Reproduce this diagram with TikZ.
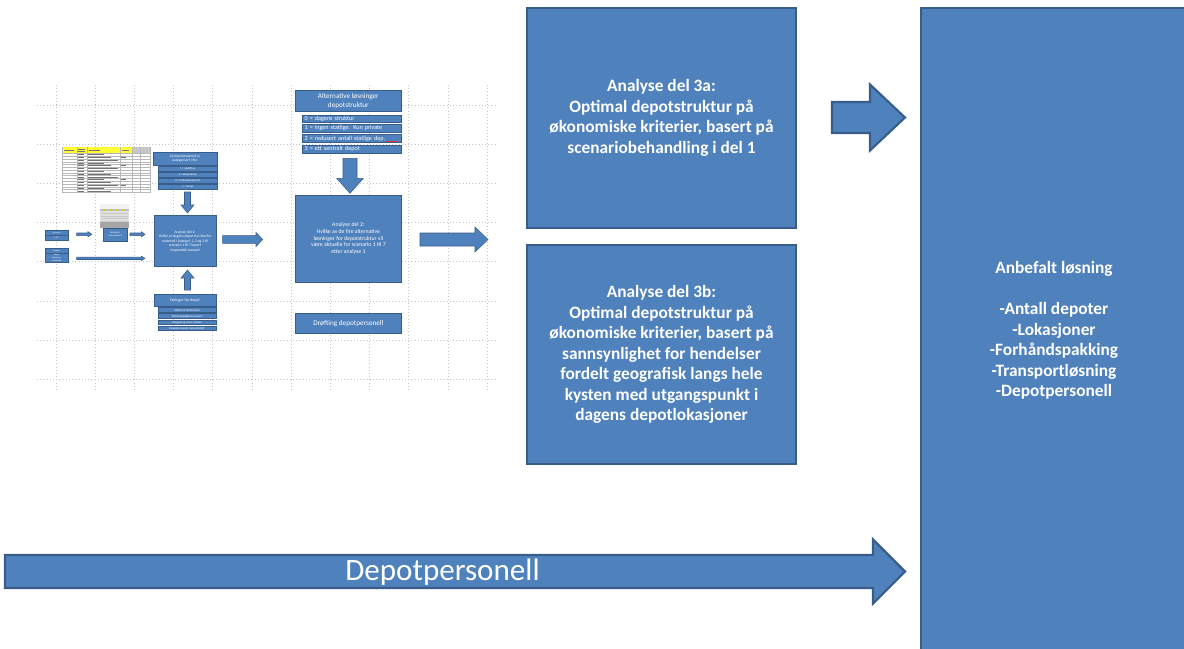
\documentclass[tikz,border=0pt]{standalone}
\usepackage{fontspec}
\setmainfont{Carlito}
\definecolor{boxfill}{HTML}{4F81BD}
\definecolor{boxedge}{HTML}{385D8A}
\definecolor{gridcol}{HTML}{C4C4C4}
\definecolor{sheetyellow}{HTML}{FFFF33}
\definecolor{spellred}{HTML}{E03030}

% box placed by its corner coordinates (units of 0.75pt, y pointing down)
\newcommand\cornerbox[7]{%
  \node[#6, minimum width={(#4-#2)*0.75pt}, minimum height={(#5-#3)*0.75pt}]
    (#1) at ({(#2+#4)/2},{(#3+#5)/2}) {#7};}
% right-pointing block arrow: tail x, head-base x, tip x, centre y, shaft half, head half, style
\newcommand\blockright[7]{%
  \path[#7] (#1,{#4-#5}) -- (#2,{#4-#5}) -- (#2,{#4-#6}) -- (#3,#4)
    -- (#2,{#4+#6}) -- (#2,{#4+#5}) -- (#1,{#4+#5}) -- cycle;}
% vertical block arrow: centre x, tail y, head-base y, tip y, shaft half, head half, style
\newcommand\blockvert[7]{%
  \path[#7] ({#1-#5},#2) -- ({#1-#5},#3) -- ({#1-#6},#3) -- (#1,#4)
    -- ({#1+#6},#3) -- ({#1+#5},#3) -- ({#1+#5},#2) -- cycle;}

\tikzset{
  bigbox/.style={draw=boxedge, fill=boxfill, line width=1.6pt, text=white,
    font=\bfseries\fontsize{13}{15.4}\selectfont, align=center, inner sep=0pt},
  minibox/.style={draw=boxedge, fill=boxfill, line width=0.4pt, text=white,
    align=center, inner sep=0pt},
  bigarrow/.style={draw=boxedge, fill=boxfill, line width=1.6pt, line join=miter},
  miniarrow/.style={draw=boxedge, fill=boxfill, line width=0.4pt},
  gridline/.style={draw=gridcol, line width=0.6pt, dash pattern=on 0.8pt off 1.6pt},
  cellline/.style={draw=black!28, line width=0.2pt},
  celltext/.style={draw=black!55, line width=0.5pt},
}

\begin{document}
\begin{tikzpicture}[x=0.75pt, y=-0.75pt]
\clip (0,0) rectangle (1184,649);
\fill[white] (0,0) rectangle (1184,649);

% ---------- small overview sketch on a grid ----------
\foreach \k in {0,...,11} \draw[gridline] ({56+39.2*\k},85) -- ({56+39.2*\k},392);
\foreach \k in {0,...,7} \draw[gridline] (37,{105+39.2*\k}) -- (497,{105+39.2*\k});

% spreadsheet excerpt
\fill[white] (61.7,147.3) rectangle (150,193);
\fill[sheetyellow] (61.7,147.3) rectangle (131.7,153.3);
\fill[black!22] (131.7,147.3) rectangle (150,153.3);
\foreach \r in {0,...,14} \draw[cellline] (61.7,{153.3+2.78*\r}) -- (150,{153.3+2.78*\r});
\foreach \c in {61.7,76.7,86.7,120,131.7,140,150} \draw[cellline] (\c,147.3) -- (\c,193);
\foreach \r in {0,...,13} {
  \draw[celltext] (88,{154.7+2.78*\r}) -- ({104+7*mod(\r,3)},{154.7+2.78*\r});
  \draw[celltext] (78,{154.7+2.78*\r}) -- (84,{154.7+2.78*\r});
}
\foreach \r in {1,4,9,11} \draw[celltext] (121,{154.7+2.78*\r}) -- (126,{154.7+2.78*\r});
\draw[celltext, line width=0.3pt] (64,150.3) -- (74,150.3);
\draw[celltext, line width=0.3pt] (89,150.3) -- (100,150.3);
\draw[celltext, line width=0.3pt] (122,150.3) -- (129,150.3);
\draw[celltext, line width=0.3pt] (78,149.3) -- (85,149.3) (78,151.3) -- (85,151.3);

% table picture with its caption box
\fill[black!12] (100,204) rectangle (129,228);
\fill[black!5] (100,204) rectangle (129,209);
\fill[black!25] (100,209) rectangle (129,211);
\foreach \x in {104,110,116,122} \fill[sheetyellow!80!black] (\x,209.3) rectangle ({\x+2},210.7);
\foreach \r in {0,...,5} \fill[black!22] (101,{213+2.5*\r}) rectangle (128,{214+2.5*\r});
\fill[black!35] (100,222) rectangle (129,228);
\cornerbox{pichead}{103}{228}{127}{241}{minibox, font=\fontsize{1.8}{2.2}\selectfont}{Hendelser\\sannsynlighet}

% left input boxes
\cornerbox{inA}{45}{230}{68.3}{235}{minibox, font=\fontsize{1.6}{2}\selectfont}{Scenarier}
\cornerbox{inB}{45}{235}{68.3}{240}{minibox, font=\fontsize{1.6}{2}\selectfont}{1 til 7}
\cornerbox{inC}{45}{248.3}{68.3}{253}{minibox, font=\fontsize{1.6}{2}\selectfont}{Dagens}
\cornerbox{inD}{45}{253}{68.3}{262.7}{minibox, font=\fontsize{1.6}{2}\selectfont}{depot\\lokasjoner\\responstid}

\blockright{76.7}{88}{91.7}{234.3}{1.3}{2.6}{miniarrow}
\blockright{130}{141.3}{145}{234.3}{1.3}{2.6}{miniarrow}
\blockright{76.7}{141.3}{145}{258.3}{1.2}{2.2}{miniarrow}

% category box
\cornerbox{kat}{153}{152.7}{217}{165}{minibox, font=\fontsize{2.7}{3.3}\selectfont}{Alt depotmateriell er\\kategorisert i fire}
\cornerbox{kat1}{158.3}{166}{217}{171}{minibox, font=\fontsize{2.2}{2.6}\selectfont}{1 = akuttfase}
\cornerbox{kat2}{158.3}{172}{217}{177}{minibox, font=\fontsize{2.2}{2.6}\selectfont}{2 = aksjonsfase}
\cornerbox{kat3}{158.3}{178}{217}{183}{minibox, font=\fontsize{2.2}{2.6}\selectfont}{3 = forbruksmateriell}
\cornerbox{kat4}{158.3}{184.5}{217}{189.5}{minibox, font=\fontsize{2.2}{2.6}\selectfont}{4 = annet}
\blockvert{187.5}{192}{205}{213}{3}{6.5}{miniarrow}

% analysis part 1
\cornerbox{ana1}{154}{215.7}{216}{266.7}{minibox, font=\fontsize{2.8}{3.4}\selectfont}{Analyse del 1:\\Hvilke av dagens depot har/skal ha\\materiell i kategori 1, 2 og 3 til\\scenario 1 til 7 basert\\responstid/avstand}
\blockright{222.7}{256}{262.7}{239.5}{3.8}{7}{miniarrow}
\blockvert{187.5}{290}{278}{270}{3}{6.5}{miniarrow}

% constraints box
\cornerbox{for}{154}{294.3}{216}{306.7}{minibox, font=\fontsize{3}{3.6}\selectfont}{Føringer for depot}
\cornerbox{for1}{158.3}{307.7}{216}{312.3}{minibox, font=\fontsize{2.2}{2.6}\selectfont}{Materiell i kontainere}
\cornerbox{for2}{158.3}{313.7}{216}{318.7}{minibox, font=\fontsize{2.2}{2.6}\selectfont}{Forhåndspakket transport}
\cornerbox{for3}{158.3}{320}{216}{324.7}{minibox, font=\fontsize{2.2}{2.6}\selectfont}{Klargjøring innen 1 timer}
\cornerbox{for4}{158.3}{326}{216}{330.7}{minibox, font=\fontsize{2.2}{2.6}\selectfont}{Depotpersonell maks dobbelt}

% alternative structures
\cornerbox{alt}{295}{90}{401.7}{111.7}{minibox, font=\fontsize{5.4}{7}\selectfont}{Alternative løsninger\\depotstruktur}
\cornerbox{alt0}{302.7}{115}{401.7}{122.7}{minibox, font=\fontsize{4.6}{5}\selectfont, align=left, text width={95*0.75pt}}{0 = dagens struktur}
\cornerbox{alt1}{302.7}{124.3}{401.7}{132.3}{minibox, font=\fontsize{4.6}{5}\selectfont, align=left, text width={95*0.75pt}}{1 = ingen statlige. Kun private}
\cornerbox{alt2}{302.7}{134.7}{401.7}{142.7}{minibox, font=\fontsize{4.6}{5}\selectfont, align=left, text width={95*0.75pt}}{2 = redusert antall statlige  dep.}
\cornerbox{alt3}{302.7}{145}{401.7}{153.3}{minibox, font=\fontsize{4.6}{5}\selectfont, align=left, text width={95*0.75pt}}{3 = ett sentralt depot}
\draw[spellred, line width=0.4pt] (386,141) -- (398,141);
\blockvert{350}{158.3}{178.3}{193.3}{7}{13.3}{miniarrow}

% analysis part 2
\cornerbox{ana2}{295}{195}{401.7}{282.3}{minibox, font=\fontsize{4.3}{5}\selectfont}{Analyse del 2:\\Hvilke av de fire alternative\\løsninger for depotstruktur vil\\være aktuelle for scenario 1 til 7\\etter analyse 1}
\cornerbox{drof}{295}{313.3}{401.7}{333.3}{minibox, font=\fontsize{5.4}{6}\selectfont}{Drøfting depotpersonell}

\blockright{420}{475}{488}{239.5}{6.5}{12.5}{miniarrow}

% ---------- main analysis boxes ----------
\cornerbox{a3a}{527}{8}{796}{228}{bigbox}{Analyse del 3a:\\Optimal depotstruktur på\\økonomiske kriterier, basert på\\scenariobehandling i del 1}
\cornerbox{a3b}{527}{245}{796}{464}{bigbox}{Analyse del 3b:\\Optimal depotstruktur på\\økonomiske kriterier, basert på\\sannsynlighet for hendelser\\fordelt geografisk langs hele\\kysten med utgangspunkt i\\dagens depotlokasjoner}
\cornerbox{result}{921}{8}{1187}{653}{bigbox}{Anbefalt løsning\\[15.4pt]-Antall depoter\\-Lokasjoner\\-Forhåndspakking\\-Transportløsning\\-Depotpersonell}

\blockright{832}{870}{905}{117.5}{15.5}{33}{bigarrow}

% staffing runs along the whole process
\blockright{5}{873}{905}{571.5}{16.5}{32}{bigarrow}
\node[text=white, font=\fontsize{23.3}{27}\selectfont, inner sep=0pt] (staff) at (442.5,572) {Depotpersonell};
\end{tikzpicture}
\end{document}
